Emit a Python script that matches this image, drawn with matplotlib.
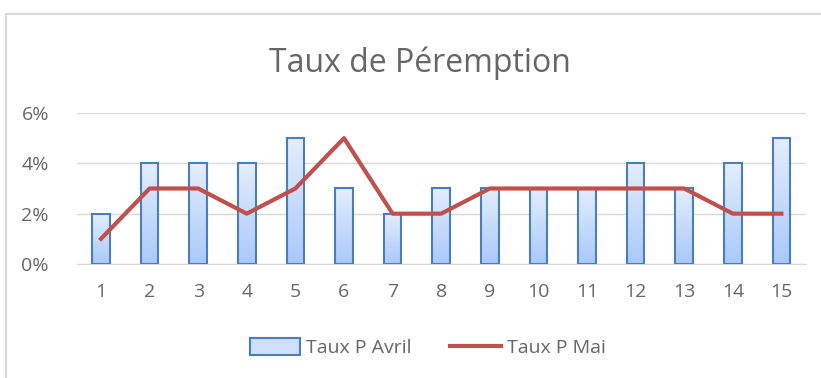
import numpy as np
import matplotlib
matplotlib.use("Agg")
import matplotlib.pyplot as plt
from matplotlib.patches import Rectangle
from matplotlib.ticker import FuncFormatter

plt.rcParams['font.family'] = ['Open Sans', 'DejaVu Sans']

jours = np.arange(1, 16)
taux_avril = [2, 4, 4, 4, 5, 3, 2, 3, 3, 3, 3, 4, 3, 4, 5]
taux_mai = [1, 3, 3, 2, 3, 5, 2, 2, 3, 3, 3, 3, 3, 2, 2]

gris = '#666666'

fig = plt.figure(figsize=(8.21, 3.78), dpi=100)
ax = fig.add_axes([0.0934, 0.3016, 0.888, 0.3995])

# bars with vertical gradient fill
grad = np.linspace(0, 1, 256).reshape(-1, 1)
cmap = matplotlib.colors.LinearSegmentedColormap.from_list('bleu', ['#a9c9fb', '#e4eefc'])
bars = ax.bar(jours, taux_avril, width=0.36, facecolor='none', edgecolor='#4a7ebb',
              linewidth=1.5, zorder=3, label='Taux P Avril')
for b in bars:
    x0, y0 = b.get_x(), b.get_y()
    w, h = b.get_width(), b.get_height()
    im = ax.imshow(grad, cmap=cmap, aspect='auto', origin='lower',
                   extent=[x0, x0 + w, y0, y0 + h], zorder=2)
    im.set_clip_path(b)

ax.plot(jours, taux_mai, color='#c0504d', linewidth=3, zorder=4, label='Taux P Mai')

ax.set_xlim(0.5, 15.5)
ax.set_ylim(0, 6)
ax.set_yticks([0, 2, 4, 6])
ax.yaxis.set_major_formatter(FuncFormatter(lambda v, p: '%d%%' % v))
ax.set_xticks(jours)
ax.grid(axis='y', color='#d9d9d9', linewidth=1, zorder=0)
for s in ['top', 'right', 'left']:
    ax.spines[s].set_visible(False)
ax.spines['bottom'].set_color('#d9d9d9')
ax.tick_params(length=0, labelsize=14, labelcolor=gris, pad=14)
ax.tick_params(axis='y', pad=20)

fig.text(0.512, 0.833, 'Taux de Péremption', ha='center', va='center',
         fontsize=23, color=gris)

leg_fill = Rectangle((0, 0), 1, 1, facecolor='#cfe0fc', edgecolor='#4a7ebb', linewidth=1.5)
fig.legend([leg_fill, ax.lines[0]], ['Taux P Avril', 'Taux P Mai'],
           loc='center', bbox_to_anchor=(0.521, 0.08), ncol=2, frameon=False,
           fontsize=14, labelcolor=gris, handlelength=2.6, handleheight=0.9,
           columnspacing=2.0, handletextpad=0.3)

# chart border
fig.patches.append(Rectangle((0.0073, -0.02), 1.0, 0.983, transform=fig.transFigure,
                             fill=False, edgecolor='#d9d9d9', linewidth=1.5))

fig.savefig('out.png', dpi=100)
